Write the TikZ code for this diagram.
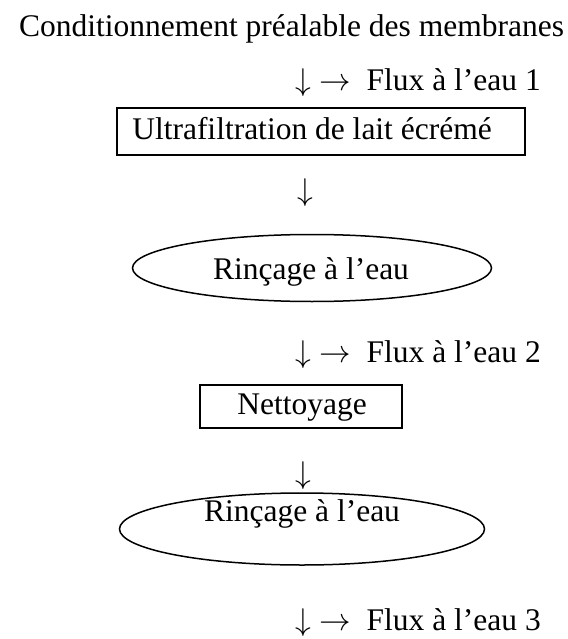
\RequirePackage{fix-cm}
\documentclass[tikz,border=0pt]{standalone}
\usepackage{fontspec}
\setmainfont{Liberation Serif}
\usetikzlibrary{shapes.geometric}
\newcommand{\fluxarrows}{$\downarrow$\hspace{8pt}$\rightarrow$\hspace{16pt}}
\begin{document}
\begin{tikzpicture}[x=1pt,y=-1pt,
  txt/.style={inner sep=0pt, font=\fontsize{31.5}{36}\selectfont},
  boxshape/.style={draw, line width=1.5pt, inner sep=0pt},
  ovalshape/.style={draw, ellipse, line width=1.5pt, inner sep=0pt}]
\useasboundingbox (0,0) rectangle (567,639);
\node[txt, anchor=base] (title) at (291.5,37) {Conditionnement préalable des membranes};
\node[txt, anchor=base east] (flux1) at (541,91) {\fluxarrows Flux à l’eau 1};
\node[boxshape, minimum width=408pt, minimum height=47pt] (box1) at (321,131.5) {};
\node[txt, anchor=base] (t1) at (312,140) {Ultrafiltration de lait écrémé};
\node[txt, anchor=base] (d1) at (305,200) {$\downarrow$};
\node[ovalshape, minimum width=359pt, minimum height=67pt] (oval1) at (312,268) {};
\node[txt, anchor=base] (t2) at (311,279) {Rinçage à l’eau};
\node[txt, anchor=base east] (flux2) at (541,362) {\fluxarrows Flux à l’eau 2};
\node[boxshape, minimum width=202pt, minimum height=43pt] (box2) at (301,406.5) {};
\node[txt, anchor=base] (t3) at (302,414) {Nettoyage};
\node[txt, anchor=base] (d2) at (303,483) {$\downarrow$};
\node[ovalshape, minimum width=365pt, minimum height=72pt] (oval2) at (302,529) {};
\node[txt, anchor=base] (t4) at (302,521) {Rinçage à l’eau};
\node[txt, anchor=base east] (flux3) at (541,630) {\fluxarrows Flux à l’eau 3};
\end{tikzpicture}
\end{document}
